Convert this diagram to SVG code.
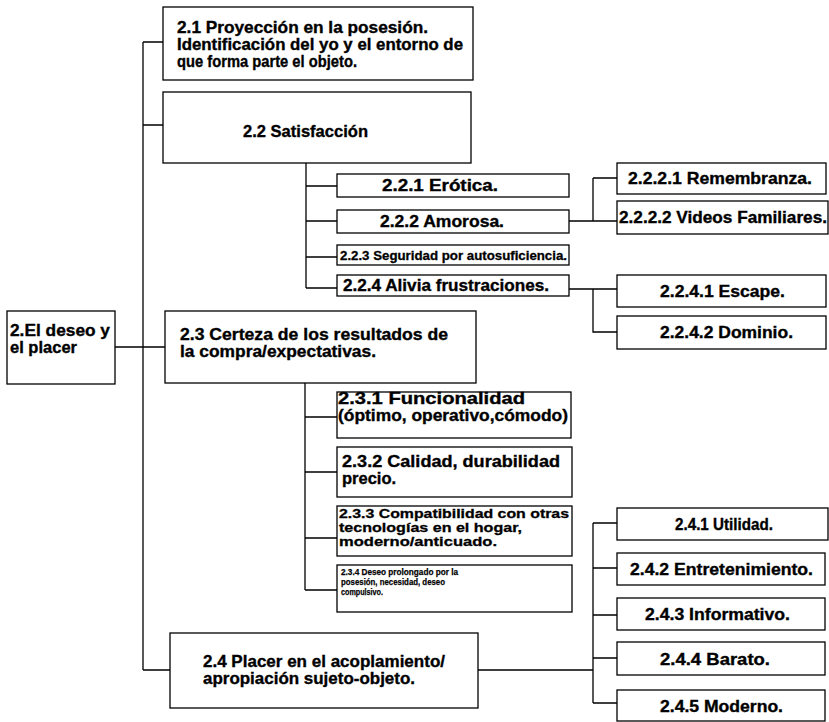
<svg xmlns="http://www.w3.org/2000/svg" width="829" height="722" viewBox="0 0 829 722">
<style>
.b{fill:#fff;stroke:#000;stroke-width:1.3}
.t{font-family:"Liberation Sans",Arial,sans-serif;font-weight:bold;fill:#000;stroke:#000;stroke-width:0.35;font-size:16.5px}
.s{font-size:13px;stroke-width:0.3}
.xs{font-size:9.5px;stroke-width:0.25}
.c{stroke:#000;stroke-width:1.3;fill:none}
</style>
<rect width="829" height="722" fill="#fff"/>
<g id="connectors" class="c">
<path d="M143,42V670M143,42H163M143,125H163M115,347H165M143,670H170"/>
<path d="M306,163V288M306,186H337M306,221H337M306,257H337M306,288H337"/>
<path d="M569,221H593M593,178V221M593,178H617M593,221H617"/>
<path d="M569,289H617M593,289V332H617"/>
<path d="M305,383V590M305,417H337M305,472H337M305,538H337M305,590H337"/>
<path d="M478,670H593M593,523V703M593,523H617M593,568H617M593,615H617M593,658H617M593,703H617"/>
</g>
<g id="n2"><rect class="b" x="7" y="311" width="108" height="73"/>
<text class="t" x="10" y="336" textLength="100" lengthAdjust="spacingAndGlyphs">2.El deseo y</text>
<text class="t" x="10" y="353" textLength="67" lengthAdjust="spacingAndGlyphs">el placer</text></g>
<g id="n21"><rect class="b" x="163" y="7" width="310" height="73"/>
<text class="t" x="177" y="33" textLength="251" lengthAdjust="spacingAndGlyphs">2.1 Proyección en la posesión.</text>
<text class="t" x="177" y="50" textLength="286" lengthAdjust="spacingAndGlyphs">Identificación del yo y el entorno de</text>
<text class="t" x="177" y="67" textLength="180" lengthAdjust="spacingAndGlyphs">que forma parte el objeto.</text></g>
<g id="n22"><rect class="b" x="163" y="92" width="308" height="71"/>
<text class="t" x="243" y="137" textLength="125" lengthAdjust="spacingAndGlyphs">2.2 Satisfacción</text></g>
<g id="n221"><rect class="b" x="337" y="174" width="232" height="23"/>
<text class="t" x="382" y="191" textLength="116" lengthAdjust="spacingAndGlyphs">2.2.1 Erótica.</text></g>
<g id="n222"><rect class="b" x="337" y="210" width="232" height="23"/>
<text class="t" x="380" y="227" textLength="124" lengthAdjust="spacingAndGlyphs">2.2.2 Amorosa.</text></g>
<g id="n223"><rect class="b" x="337" y="245" width="232" height="20"/>
<text class="t s" x="340" y="260" textLength="227" lengthAdjust="spacingAndGlyphs">2.2.3 Seguridad por autosuficiencia.</text></g>
<g id="n224"><rect class="b" x="337" y="275" width="232" height="21"/>
<text class="t" x="343" y="291" textLength="206" lengthAdjust="spacingAndGlyphs">2.2.4 Alivia frustraciones.</text></g>
<g id="n2221"><rect class="b" x="617" y="163" width="209" height="31"/>
<text class="t" x="628" y="184" textLength="184" lengthAdjust="spacingAndGlyphs">2.2.2.1 Remembranza.</text></g>
<g id="n2222"><rect class="b" x="617" y="201" width="211" height="33"/>
<text class="t" x="619" y="223" textLength="208" lengthAdjust="spacingAndGlyphs">2.2.2.2 Videos Familiares.</text></g>
<g id="n2241"><rect class="b" x="617" y="275" width="209" height="32"/>
<text class="t" x="660" y="297" textLength="125" lengthAdjust="spacingAndGlyphs">2.2.4.1 Escape.</text></g>
<g id="n2242"><rect class="b" x="617" y="316" width="209" height="33"/>
<text class="t" x="660" y="338" textLength="133" lengthAdjust="spacingAndGlyphs">2.2.4.2 Dominio.</text></g>
<g id="n23"><rect class="b" x="165" y="311" width="311" height="72"/>
<text class="t" x="180" y="340" textLength="268" lengthAdjust="spacingAndGlyphs">2.3 Certeza de los resultados de</text>
<text class="t" x="180" y="357" textLength="196" lengthAdjust="spacingAndGlyphs">la compra/expectativas.</text></g>
<g id="n231"><rect class="b" x="337" y="392" width="234" height="46"/>
<text class="t" x="338" y="404" textLength="187" lengthAdjust="spacingAndGlyphs">2.3.1 Funcionalidad</text>
<text class="t" x="338" y="421" textLength="230" lengthAdjust="spacingAndGlyphs">(óptimo, operativo,cómodo)</text></g>
<g id="n232"><rect class="b" x="337" y="447" width="235" height="50"/>
<text class="t" x="342" y="467" textLength="218" lengthAdjust="spacingAndGlyphs">2.3.2 Calidad, durabilidad</text>
<text class="t" x="342" y="484">precio.</text></g>
<g id="n233"><rect class="b" x="337" y="506" width="235" height="50"/>
<text class="t s" x="339" y="518" textLength="230" lengthAdjust="spacingAndGlyphs">2.3.3 Compatibilidad con otras</text>
<text class="t s" x="339" y="532" textLength="183" lengthAdjust="spacingAndGlyphs">tecnologías en el hogar,</text>
<text class="t s" x="339" y="546" textLength="158" lengthAdjust="spacingAndGlyphs">moderno/anticuado.</text></g>
<g id="n234"><rect class="b" x="337" y="565" width="235" height="47"/>
<text class="t xs" x="341" y="575" textLength="117" lengthAdjust="spacingAndGlyphs">2.3.4 Deseo prolongado por la</text>
<text class="t xs" x="341" y="585" textLength="104" lengthAdjust="spacingAndGlyphs">posesión, necesidad, deseo</text>
<text class="t xs" x="341" y="595" textLength="42" lengthAdjust="spacingAndGlyphs">compulsivo.</text></g>
<g id="n24"><rect class="b" x="170" y="633" width="308" height="75"/>
<text class="t" x="203" y="667" textLength="242" lengthAdjust="spacingAndGlyphs">2.4 Placer en el acoplamiento/</text>
<text class="t" x="203" y="684" textLength="212" lengthAdjust="spacingAndGlyphs">apropiación sujeto-objeto.</text></g>
<g id="n241"><rect class="b" x="617" y="508" width="211" height="32"/>
<text class="t" x="675" y="530" textLength="98" lengthAdjust="spacingAndGlyphs">2.4.1 Utilidad.</text></g>
<g id="n242"><rect class="b" x="617" y="553" width="208" height="32"/>
<text class="t" x="630" y="575" textLength="183" lengthAdjust="spacingAndGlyphs">2.4.2 Entretenimiento.</text></g>
<g id="n243"><rect class="b" x="617" y="598" width="208" height="32"/>
<text class="t" x="645" y="620" textLength="145" lengthAdjust="spacingAndGlyphs">2.4.3 Informativo.</text></g>
<g id="n244"><rect class="b" x="617" y="642" width="208" height="33"/>
<text class="t" x="660" y="665" textLength="110" lengthAdjust="spacingAndGlyphs">2.4.4 Barato.</text></g>
<g id="n245"><rect class="b" x="617" y="690" width="208" height="31"/>
<text class="t" x="660" y="712" textLength="123" lengthAdjust="spacingAndGlyphs">2.4.5 Moderno.</text></g>
</svg>
